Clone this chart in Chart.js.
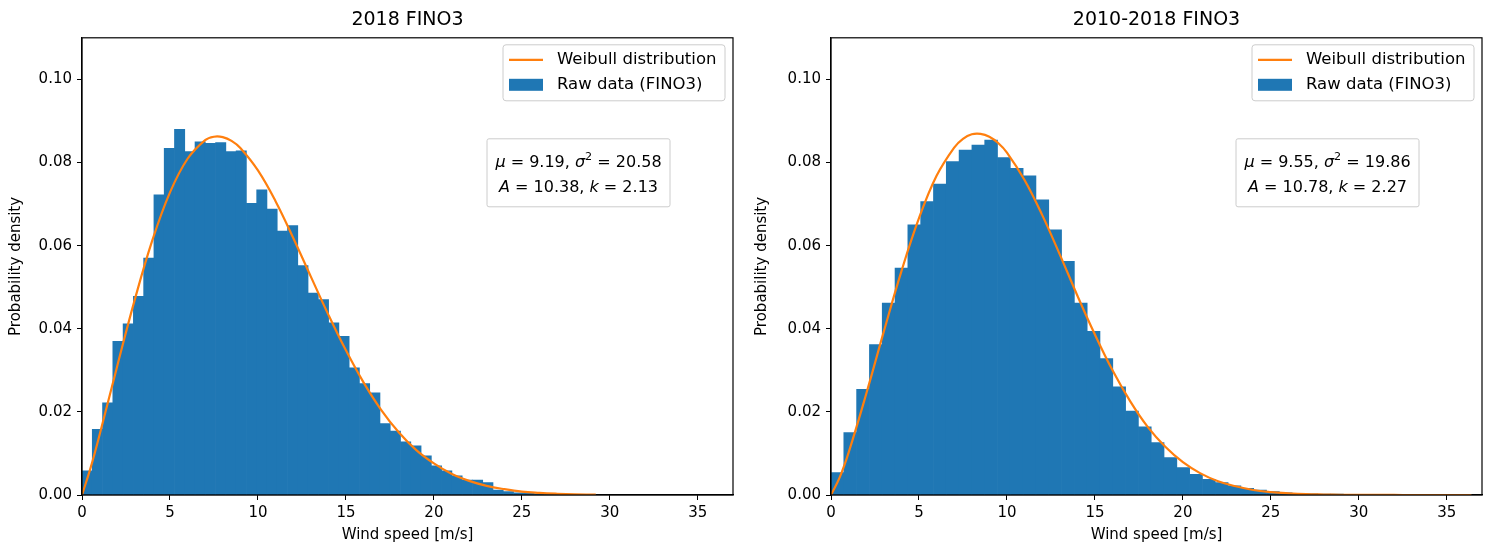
<!DOCTYPE html>
<html lang="en">
  <head>
    <meta charset="UTF-8" />
    <title>Wind speed distribution FINO3</title>
    <script src="https://cdn.jsdelivr.net/npm/chart.js"></script>
    <style>
      body { margin: 0; background: #fff; }
      #wrap { position: relative; width: 1493px; height: 551px; }
      canvas { position: absolute; top: 0; }
    </style>
  </head>
  <body>
    <div id="wrap">
      <canvas id="left" width="746" height="551" style="left:0"></canvas>
      <canvas id="right" width="747" height="551" style="left:746px"></canvas>
    </div>

    <script>
      // histogram bins (density)
      const bins2018Width = 0.584;
      const bins2018 = [
        0.0058, 0.0158, 0.0222, 0.0370, 0.0412, 0.0478, 0.0570, 0.0722, 0.0834, 0.0880,
        0.0826, 0.0850, 0.0846, 0.0848, 0.0826, 0.0828, 0.0702, 0.0734, 0.0688, 0.0635,
        0.0648, 0.0552, 0.0486, 0.0470, 0.0414, 0.0382, 0.0306, 0.0268, 0.0246, 0.0172,
        0.0154, 0.0128, 0.0118, 0.0094, 0.0070, 0.0058, 0.0046, 0.0036, 0.0036, 0.0030,
        0.0012, 0.0008, 0.0005, 0.0004, 0.0003, 0.0002, 0.0001, 0.0001, 0.0000, 0.0001
      ];
      const binsAllWidth = 0.728;
      const binsAll = [
        0.0054, 0.0150, 0.0254, 0.0362, 0.0462, 0.0546, 0.0650, 0.0706, 0.0748, 0.0802,
        0.0830, 0.0842, 0.0854, 0.0812, 0.0786, 0.0768, 0.0710, 0.0638, 0.0562, 0.0462,
        0.0394, 0.0328, 0.0260, 0.0202, 0.0164, 0.0126, 0.0090, 0.0066, 0.0050, 0.0038,
        0.0030, 0.0022, 0.0016, 0.0012, 0.0008, 0.0005, 0.0004, 0.0003, 0.0002, 0.0002,
        0.0001, 0.0001, 0.0001, 0, 0, 0, 0, 0, 0, 0
      ];

      // fitted weibull curve, sampled points
      const weibull2018X = [0, 0.5, 1, 2, 3, 4, 5, 6, 7, 7.5, 8, 8.5, 9, 10, 11, 12, 13,
        14, 15, 16, 17, 18, 19, 20, 21, 22, 23, 24, 25, 26, 27, 28, 29, 29.2];
      const weibull2018Y = [0, 0.0067, 0.0145, 0.0310, 0.0470, 0.0613, 0.0728, 0.0809,
        0.0854, 0.0862, 0.0861, 0.0852, 0.0835, 0.0781, 0.0707, 0.0619, 0.0526, 0.0434,
        0.0348, 0.0271, 0.0205, 0.0151, 0.0108, 0.0076, 0.0051, 0.0034, 0.0022, 0.0014,
        0.0008, 0.0005, 0.0003, 0.00016, 0.00009, 0.00008];
      const weibullAllX = [0, 0.5, 1, 2, 3, 4, 5, 6, 7, 7.5, 8, 8.5, 9, 9.5, 10, 11, 12,
        13, 14, 15, 16, 17, 18, 19, 20, 21, 22, 23, 24, 25, 26, 27, 28, 29, 30, 31, 32,
        33, 34, 35, 36, 36.4];
      const weibullAllY = [0, 0.0043, 0.0102, 0.0243, 0.0393, 0.0538, 0.0666, 0.0768,
        0.0836, 0.0857, 0.0868, 0.0869, 0.0862, 0.0847, 0.0824, 0.0758, 0.0674, 0.0579,
        0.0480, 0.0386, 0.0300, 0.0226, 0.0164, 0.0116, 0.0079, 0.0052, 0.0033, 0.0021,
        0.0012, 0.0007, 0.0004, 0.0002, 0.00012, 0.00006, 0.00003, 0.000015, 0.00001,
        0, 0, 0, 0, 0];

      const stats2018 = { mu: "9.19", s2: "20.58", A: "10.38", k: "2.13" };
      const statsAll = { mu: "9.55", s2: "19.86", A: "10.78", k: "2.27" };

      const xTicks = [0, 5, 10, 15, 20, 25, 30, 35];
      const yTicks = [0, 0.02, 0.04, 0.06, 0.08, 0.10];

      const FONT = "DejaVu Sans";
      Chart.defaults.font.family = FONT;
      Chart.defaults.color = "#000";

      function drawRich(ctx, segs, cx, cy, size) {
        const fontOf = (s) =>
          (s.it ? "italic " : "") + (s.sup ? size * 0.7 : size) + "px " + FONT;
        let total = 0;
        segs.forEach((s) => {
          ctx.font = fontOf(s);
          s.w = ctx.measureText(s.t).width;
          total += s.w;
        });
        let x = cx - total / 2;
        ctx.textAlign = "left";
        ctx.textBaseline = "middle";
        segs.forEach((s) => {
          ctx.font = fontOf(s);
          ctx.fillText(s.t, x, s.sup ? cy - size * 0.38 : cy);
          x += s.w;
        });
      }

      function roundBox(ctx, x, y, w, h, r) {
        ctx.beginPath();
        ctx.roundRect(x, y, w, h, r);
        ctx.fill();
        ctx.stroke();
      }

      // axes frame, legend box and fit parameters
      const decorations = {
        id: "decorations",
        afterDraw(chart, args, opts) {
          const { ctx, chartArea: a } = chart;
          ctx.save();
          ctx.strokeStyle = "#000";
          ctx.lineWidth = 1.2;
          ctx.strokeRect(a.left, a.top, a.right - a.left, a.bottom - a.top);

          // legend
          const lx = a.left + 421, ly = a.top + 7;
          ctx.fillStyle = "rgba(255,255,255,0.8)";
          ctx.strokeStyle = "#cccccc";
          ctx.lineWidth = 1;
          roundBox(ctx, lx, ly, 222, 56, 3);
          ctx.font = "16.5px " + FONT;
          ctx.textBaseline = "middle";
          ctx.textAlign = "left";
          chart.data.datasets.forEach((ds, i) => {
            const cy = ly + 15 + i * 25;
            if (ds.type === "line") {
              ctx.strokeStyle = ds.borderColor;
              ctx.lineWidth = 2.2;
              ctx.beginPath();
              ctx.moveTo(lx + 6, cy);
              ctx.lineTo(lx + 40, cy);
              ctx.stroke();
            } else {
              ctx.fillStyle = ds.backgroundColor;
              ctx.fillRect(lx + 6, cy - 6, 34, 12);
            }
            ctx.fillStyle = "#000";
            ctx.fillText(ds.label, lx + 54, cy);
          });

          // parameter box
          const st = opts.stats;
          const bx = a.left + 405, by = a.top + 101;
          ctx.fillStyle = "rgba(255,255,255,0.8)";
          ctx.strokeStyle = "#cccccc";
          ctx.lineWidth = 1;
          roundBox(ctx, bx, by, 183, 68, 2);
          ctx.fillStyle = "#000";
          drawRich(ctx, [
            { t: "μ", it: true }, { t: " = " + st.mu + ", " },
            { t: "σ", it: true }, { t: "2", sup: true }, { t: " = " + st.s2 }
          ], bx + 91.5, by + 24, 16);
          drawRich(ctx, [
            { t: "A", it: true }, { t: " = " + st.A + ", " },
            { t: "k", it: true }, { t: " = " + st.k }
          ], bx + 91.5, by + 49, 16);
          ctx.restore();
        },
      };

      function makePanel(id, title, binWidth, bins, curveX, curveY, stats, axisWidth, padRight) {
        const ctx = document.getElementById(id).getContext("2d");
        return new Chart(ctx, {
          type: "bar",
          data: {
            datasets: [
              {
                type: "line",
                label: "Weibull distribution",
                data: curveX.map((x, i) => ({ x: x, y: curveY[i] })),
                borderColor: "#ff7f0e",
                borderWidth: 2.2,
                pointRadius: 0,
                tension: 0.4,
                fill: false,
              },
              {
                type: "bar",
                label: "Raw data (FINO3)",
                data: bins.map((v, i) => ({ x: (i + 0.5) * binWidth, y: v })),
                backgroundColor: "#1f77b4",
                borderWidth: 0,
                barPercentage: 1,
                categoryPercentage: 1,
              },
            ],
          },
          options: {
            responsive: false,
            animation: false,
            devicePixelRatio: 1,
            layout: { padding: { left: 0, right: padRight, top: 0, bottom: 0 } },
            plugins: {
              legend: { display: false },
              tooltip: { enabled: false },
              title: {
                display: true,
                text: title,
                fullSize: false,
                color: "#000",
                font: { size: 19, weight: "normal" },
                padding: { top: 9, bottom: 6 },
              },
              decorations: { stats: stats },
            },
            scales: {
              x: {
                type: "linear",
                min: 0,
                max: 37,
                offset: false,
                afterFit: (s) => { s.height = 56; },
                afterBuildTicks: (s) => { s.ticks = xTicks.map((v) => ({ value: v })); },
                ticks: { padding: 4, maxRotation: 0, autoSkip: false, font: { size: 15 } },
                grid: { offset: false, drawOnChartArea: false, tickLength: 5, tickColor: "#000" },
                border: { color: "#000", width: 1.2 },
                title: {
                  display: true,
                  text: "Wind speed [m/s]",
                  font: { size: 15 },
                  padding: { top: 0, bottom: 7 },
                },
              },
              y: {
                min: 0,
                max: 0.11,
                afterFit: (s) => { s.width = axisWidth; },
                afterBuildTicks: (s) => { s.ticks = yTicks.map((v) => ({ value: v })); },
                ticks: {
                  padding: 5,
                  font: { size: 15 },
                  callback: (v) => v.toFixed(2),
                },
                grid: { offset: false, drawOnChartArea: false, tickLength: 5, tickColor: "#000" },
                border: { color: "#000", width: 1.2 },
                title: {
                  display: true,
                  text: "Probability density",
                  font: { size: 15 },
                  padding: { top: 7, bottom: 0 },
                },
              },
            },
          },
          plugins: [decorations],
        });
      }

      makePanel("left", "2018 FINO3", bins2018Width, bins2018,
        weibull2018X, weibull2018Y, stats2018, 82, 13);
      makePanel("right", "2010-2018 FINO3", binsAllWidth, binsAll,
        weibullAllX, weibullAllY, statsAll, 85, 11);
    </script>
  </body>
</html>
